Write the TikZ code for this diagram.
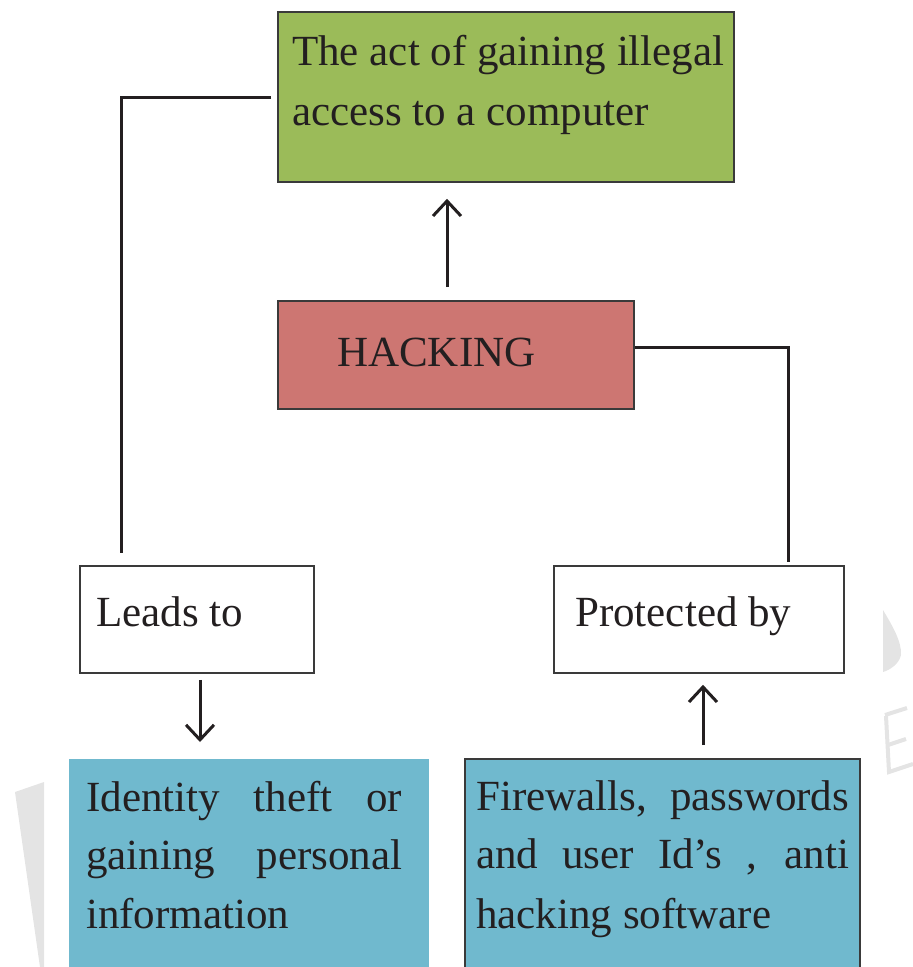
\documentclass[tikz,border=0pt]{standalone}
\usepackage{fontspec}
\setmainfont{Liberation Serif}
\usetikzlibrary{arrows.meta}
\definecolor{boxgreen}{HTML}{9BBB59}
\definecolor{boxred}{HTML}{CD7672}
\definecolor{boxblue}{HTML}{70B9CE}
\definecolor{ink}{HTML}{231F20}
\definecolor{edge}{HTML}{3A3A3A}
\definecolor{faint}{HTML}{E4E4E4}
\begin{document}
\begin{tikzpicture}[x=1pt, y=-1pt,
  box/.style={rectangle, draw=edge, line width=1.8pt, inner sep=0pt, anchor=north west},
  txt/.style={anchor=base west, inner sep=0pt, text=ink, font=\fontsize{43}{50}\selectfont},
  link/.style={draw=ink, line width=3pt},
  arrowlink/.style={link, -{Straight Barb[length=15pt, width=28pt]}}]
\useasboundingbox (0,0) rectangle (913,967);

% light background marks
\fill[faint] (15,792) -- (44,782) -- (44,967) -- (40,967) -- cycle;
\fill[faint] (883,610) .. controls (892,625) and (902,642) .. (901,655)
  .. controls (899,664) and (890,670) .. (883,672) -- cycle;
\draw[faint, line width=4pt] (885,715) -- (907,708);
\draw[faint, line width=4pt] (886,716) -- (889,772) -- (913,764);
\draw[faint, line width=4pt] (888,745) -- (906,739);

% boxes
\node[box, fill=boxgreen, minimum width=456pt, minimum height=170pt] (act) at (277,11) {};
\node[box, fill=boxred, minimum width=356pt, minimum height=108pt] (hack) at (277,300) {};
\node[box, fill=white, minimum width=234pt, minimum height=107pt] (leads) at (79,565) {};
\node[box, fill=white, minimum width=290pt, minimum height=107pt] (prot) at (553,565) {};
\node[box, draw=none, fill=boxblue, minimum width=360pt, minimum height=222pt] (theft) at (68,758) {};
\node[box, fill=boxblue, minimum width=395pt, minimum height=222pt] (tools) at (464,758) {};

% texts
\node[txt] (actA) at (292,65) {The act of gaining illegal};
\node[txt] (actB) at (292,125) {access to a computer};
\node[txt] (hackT) at (337,366) {HACKING};
\node[txt] (leadsT) at (96,626) {Leads to};
\node[txt] (protT) at (575,626) {Protected by};
\node[txt] (theftA) at (86,811) {\makebox[316pt][s]{Identity theft or}};
\node[txt] (theftB) at (86,869) {\makebox[316pt][s]{gaining personal}};
\node[txt] (theftC) at (86,928) {information};
\node[txt] (toolsA) at (476,810) {\makebox[373pt][s]{Firewalls, passwords}};
\node[txt] (toolsB) at (476,868) {\makebox[373pt][s]{and user Id’s , anti}};
\node[txt] (toolsC) at (476,928) {hacking software};

% connectors
\draw[arrowlink, shorten <=13pt, shorten >=16pt]
  ([xshift=170pt]hack.north west) -- ([xshift=170pt]act.south west);
\draw[link, shorten >=3pt]
  ([yshift=7pt]hack.east) -| ([xshift=235pt]prot.north west);
\draw[link, shorten <=6pt, shorten >=12pt]
  ([yshift=-1pt]act.west) -| ([xshift=42pt]leads.north west);
\draw[arrowlink, shorten <=6pt, shorten >=16pt]
  ([xshift=121pt]leads.south west) -- ([xshift=132pt]theft.north west);
\draw[arrowlink, shorten <=13pt, shorten >=11pt]
  ([xshift=239pt]tools.north west) -- ([xshift=150pt]prot.south west);
\end{tikzpicture}
\end{document}
